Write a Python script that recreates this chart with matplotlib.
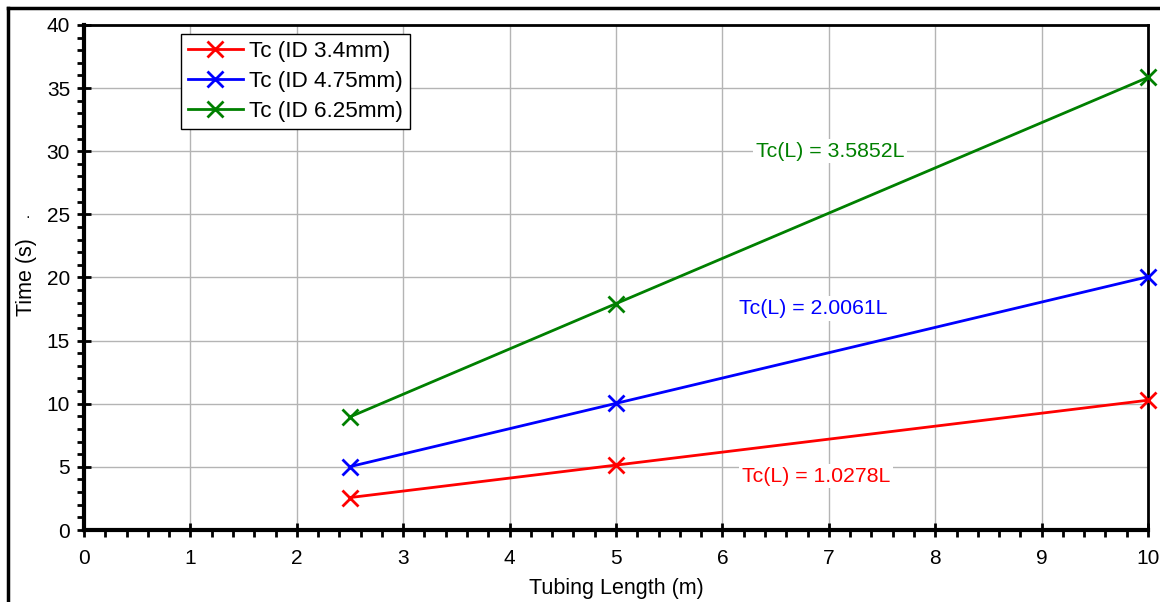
import matplotlib
matplotlib.use('Agg')
import matplotlib.pyplot as plt
from matplotlib.lines import Line2D
from matplotlib.ticker import MultipleLocator

plt.rcParams['font.family'] = ['Liberation Sans', 'DejaVu Sans']

# tubing length (m) and measured time (s) for each inner diameter
length = [2.5, 5, 10]
tc_34 = [2.57, 5.14, 10.28]
tc_475 = [5.02, 10.03, 20.06]
tc_625 = [8.96, 17.93, 35.85]

labels = ["Tc (ID 3.4mm)", "Tc (ID 4.75mm)", "Tc (ID 6.25mm)"]
colors = ["#ff0000", "#0000ff", "#008000"]
fits = ["Tc(L) = 1.0278L", "Tc(L) = 2.0061L", "Tc(L) = 3.5852L"]
fit_pos = [(6.88, 4.27), (6.85, 17.55), (7.01, 30.0)]

fig = plt.figure(figsize=(11.6, 6.02), dpi=100)
ax = fig.add_axes([0.0724, 0.1196, 0.9173, 0.8389])

for y, lab, c in zip([tc_34, tc_475, tc_625], labels, colors):
    ax.plot(length, y, color=c, marker='x', markersize=12, markeredgewidth=2,
            linewidth=2, label=lab, clip_on=False, zorder=3)

for txt, (x, y), c in zip(fits, fit_pos, colors):
    ax.text(x, y, txt, color=c, fontsize=15.3, ha='center', va='center',
            bbox=dict(facecolor='white', edgecolor='none', pad=2), zorder=2)

ax.set_xlim(0, 10)
ax.set_ylim(0, 40)
ax.xaxis.set_major_locator(MultipleLocator(1))
ax.xaxis.set_minor_locator(MultipleLocator(0.2))
ax.yaxis.set_major_locator(MultipleLocator(5))
ax.yaxis.set_minor_locator(MultipleLocator(1))
ax.tick_params(which='major', direction='inout', length=10, width=2, labelsize=15, pad=5)
ax.tick_params(axis='x', which='major', pad=9)
ax.tick_params(axis='x', which='minor', direction='out', length=5, width=2)
ax.tick_params(axis='y', which='minor', direction='out', length=5, width=2)
ax.grid(True, which='major', color='#b4b4b4', linewidth=1)
ax.set_axisbelow(True)

ax.spines['left'].set_linewidth(3)
ax.spines['bottom'].set_linewidth(3)
ax.spines['top'].set_linewidth(2)
ax.spines['right'].set_linewidth(2)

ax.set_xlabel("Tubing Length (m)", fontsize=15.5, labelpad=7)
ax.set_ylabel("Time (s)", fontsize=15.5, labelpad=7)
ax.text(-0.53, 24.8, "·", fontsize=10, ha='center', va='center')

leg = ax.legend(loc='upper left', bbox_to_anchor=(0.091, 0.982), fontsize=16.2,
                fancybox=False, framealpha=1, edgecolor='black',
                handlelength=2.45, handletextpad=0.3, borderpad=0.3,
                labelspacing=0.4, borderaxespad=0)
leg.get_frame().set_linewidth(1)

# outer frame along the top and left
fig.add_artist(Line2D([8 / 1160, 1], [1 - 8 / 602, 1 - 8 / 602], color='black', linewidth=2.5))
fig.add_artist(Line2D([8 / 1160, 8 / 1160], [0, 1 - 8 / 602], color='black', linewidth=2.5))

fig.savefig("out.png", dpi=100)
